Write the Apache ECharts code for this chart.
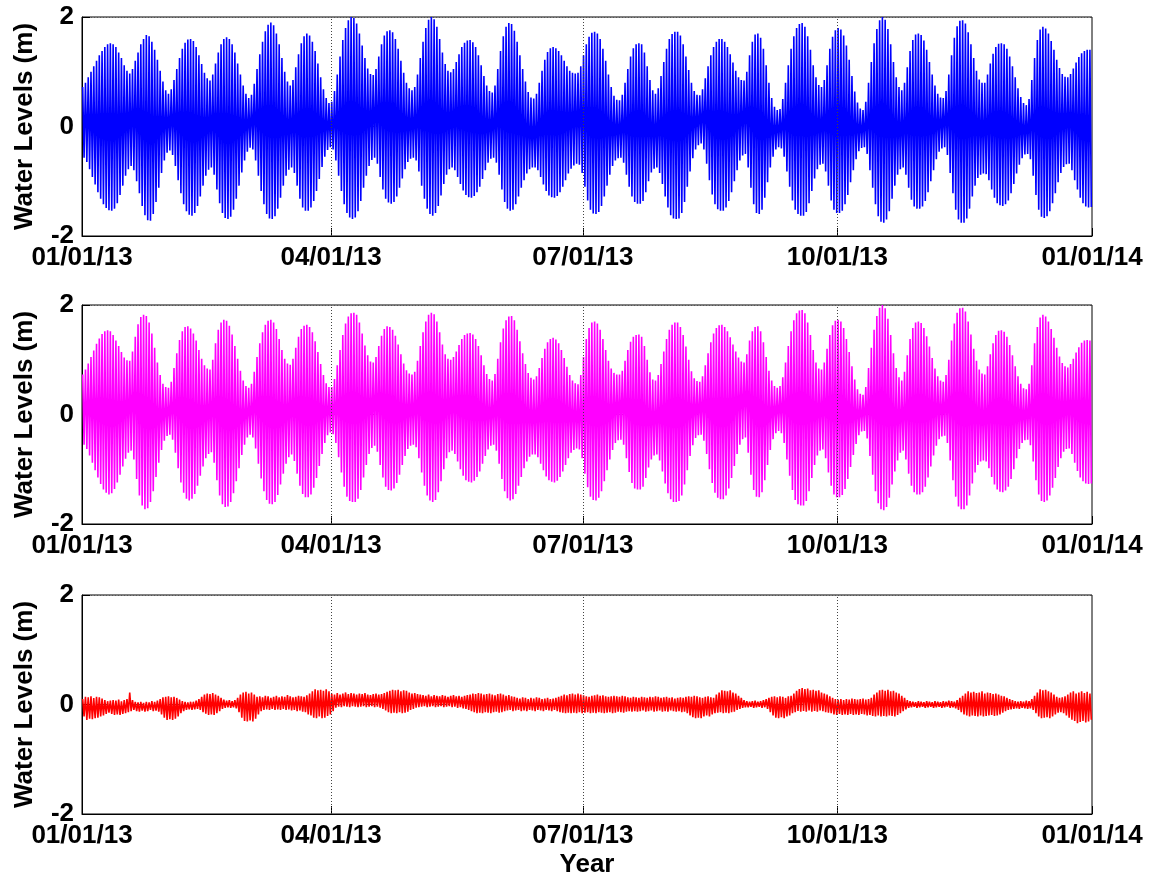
<!DOCTYPE html>
<html>
<head>
<meta charset="utf-8">
<script src="https://cdn.jsdelivr.net/npm/echarts@6/dist/echarts.min.js"></script>
<style>
html,body{margin:0;padding:0;background:#fff;}
#chart{width:1160px;height:882px;}
</style>
</head>
<body>
<div id="chart"></div>
<script>
// x positions: day of year 2013 (0 = 01/01/13, 365 = 01/01/14)
const tickDays = [0, 90, 181, 273, 365];
const tickLabels = ['01/01/13', '04/01/13', '07/01/13', '10/01/13', '01/01/14'];
const gridDays = [90, 181, 273];
const yTicks = [-2, 0, 2];

// Panel 1 (blue): daily high / low water levels (m)
const blueHigh = [
0.72,0.8,0.9,1.0,1.1,1.2,1.3,1.38,1.45,1.5,
1.52,1.5,1.45,1.35,1.25,1.12,1.02,0.97,1.05,1.2,
1.35,1.5,1.6,1.67,1.65,1.55,1.4,1.22,1.02,0.82,
0.66,0.6,0.68,0.85,1.05,1.25,1.42,1.53,1.59,1.6,
1.56,1.45,1.3,1.14,0.98,0.88,0.84,0.95,1.15,1.35,
1.5,1.6,1.63,1.6,1.5,1.35,1.15,0.95,0.75,0.6,
0.52,0.58,0.78,1.05,1.32,1.55,1.74,1.86,1.9,1.85,
1.7,1.5,1.25,1.0,0.82,0.75,0.85,1.08,1.32,1.52,
1.65,1.7,1.66,1.55,1.38,1.15,0.9,0.68,0.52,0.43,
0.45,0.65,0.95,1.28,1.58,1.8,1.94,2.0,1.98,1.88,
1.7,1.48,1.25,1.06,0.96,0.94,1.05,1.28,1.5,1.66,
1.74,1.76,1.72,1.6,1.42,1.2,0.98,0.8,0.7,0.66,
0.72,0.95,1.25,1.55,1.8,1.95,2.0,1.96,1.82,1.6,
1.35,1.14,1.02,0.99,1.05,1.18,1.32,1.45,1.53,1.57,
1.58,1.54,1.45,1.3,1.12,0.92,0.75,0.65,0.62,0.75,
1.05,1.38,1.65,1.82,1.89,1.87,1.75,1.55,1.3,1.05,
0.82,0.63,0.53,0.51,0.6,0.8,1.02,1.22,1.36,1.43,
1.45,1.43,1.38,1.3,1.2,1.1,1.02,0.98,0.97,0.98,
1.1,1.3,1.5,1.64,1.71,1.73,1.7,1.6,1.42,1.2,
0.95,0.72,0.56,0.49,0.48,0.58,0.8,1.05,1.28,1.43,
1.5,1.52,1.5,1.35,1.1,0.85,0.66,0.6,0.7,0.92,
1.18,1.42,1.6,1.69,1.73,1.73,1.66,1.5,1.28,1.03,
0.8,0.65,0.58,0.57,0.68,0.88,1.1,1.3,1.45,1.55,
1.6,1.6,1.55,1.45,1.32,1.17,1.02,0.9,0.85,0.84,
1.0,1.3,1.55,1.68,1.7,1.62,1.42,1.12,0.8,0.52,
0.36,0.3,0.32,0.5,0.8,1.12,1.42,1.65,1.8,1.87,
1.89,1.82,1.65,1.4,1.12,0.9,0.76,0.72,0.85,1.12,
1.42,1.64,1.76,1.8,1.77,1.66,1.48,1.22,0.92,0.64,
0.44,0.33,0.3,0.45,0.8,1.18,1.52,1.78,1.94,2.0,
1.95,1.78,1.5,1.18,0.9,0.72,0.66,0.8,1.08,1.38,
1.58,1.68,1.7,1.67,1.57,1.4,1.18,0.95,0.75,0.6,
0.53,0.52,0.65,0.95,1.3,1.62,1.83,1.93,1.94,1.88,
1.72,1.5,1.25,1.02,0.86,0.8,0.8,0.95,1.15,1.33,
1.45,1.51,1.52,1.5,1.42,1.28,1.1,0.9,0.7,0.54,
0.43,0.39,0.5,0.85,1.25,1.58,1.77,1.82,1.79,1.7,
1.56,1.4,1.22,1.07,0.96,0.91,0.9,0.96,1.06,1.17,
1.27,1.34,1.38,1.4,1.4
];
const blueLow = [
-0.57,-0.65,-0.78,-0.92,-1.06,-1.2,-1.32,-1.42,-1.49,-1.53,
-1.54,-1.5,-1.4,-1.25,-1.08,-0.9,-0.78,-0.72,-0.8,-1.0,
-1.22,-1.45,-1.62,-1.71,-1.72,-1.6,-1.38,-1.12,-0.85,-0.62,
-0.48,-0.44,-0.52,-0.72,-0.98,-1.22,-1.42,-1.55,-1.61,-1.63,
-1.58,-1.45,-1.28,-1.08,-0.9,-0.79,-0.75,-0.88,-1.15,-1.4,
-1.58,-1.67,-1.69,-1.65,-1.52,-1.32,-1.08,-0.84,-0.62,-0.46,
-0.39,-0.42,-0.62,-0.9,-1.18,-1.42,-1.6,-1.68,-1.69,-1.64,
-1.5,-1.3,-1.08,-0.9,-0.79,-0.75,-0.85,-1.08,-1.32,-1.48,
-1.54,-1.54,-1.48,-1.36,-1.18,-0.96,-0.74,-0.55,-0.43,-0.38,
-0.42,-0.62,-0.9,-1.18,-1.42,-1.58,-1.66,-1.69,-1.66,-1.55,
-1.36,-1.12,-0.9,-0.72,-0.61,-0.57,-0.68,-0.92,-1.15,-1.32,
-1.39,-1.41,-1.38,-1.28,-1.12,-0.95,-0.78,-0.65,-0.59,-0.57,
-0.62,-0.82,-1.08,-1.32,-1.5,-1.6,-1.63,-1.58,-1.45,-1.26,
-1.05,-0.88,-0.78,-0.75,-0.8,-0.92,-1.05,-1.17,-1.25,-1.29,
-1.3,-1.27,-1.2,-1.1,-0.96,-0.8,-0.66,-0.59,-0.57,-0.66,
-0.88,-1.15,-1.38,-1.5,-1.54,-1.52,-1.42,-1.28,-1.12,-0.98,
-0.86,-0.78,-0.75,-0.75,-0.8,-0.92,-1.06,-1.18,-1.26,-1.29,
-1.3,-1.27,-1.2,-1.1,-0.98,-0.86,-0.77,-0.71,-0.68,-0.7,
-0.85,-1.1,-1.35,-1.52,-1.59,-1.6,-1.56,-1.45,-1.28,-1.08,
-0.88,-0.72,-0.62,-0.58,-0.57,-0.66,-0.88,-1.1,-1.28,-1.38,
-1.41,-1.41,-1.36,-1.2,-1.0,-0.84,-0.77,-0.75,-0.85,-1.05,
-1.28,-1.48,-1.62,-1.68,-1.69,-1.68,-1.58,-1.38,-1.1,-0.82,
-0.58,-0.42,-0.34,-0.31,-0.42,-0.68,-0.98,-1.24,-1.42,-1.51,
-1.54,-1.54,-1.48,-1.36,-1.2,-1.0,-0.8,-0.62,-0.53,-0.5,
-0.75,-1.12,-1.42,-1.58,-1.6,-1.52,-1.3,-1.02,-0.75,-0.55,
-0.42,-0.38,-0.4,-0.55,-0.82,-1.1,-1.35,-1.52,-1.6,-1.63,
-1.63,-1.56,-1.4,-1.18,-0.95,-0.78,-0.7,-0.68,-0.82,-1.08,
-1.35,-1.52,-1.58,-1.58,-1.54,-1.42,-1.25,-1.02,-0.8,-0.6,
-0.45,-0.39,-0.38,-0.5,-0.8,-1.12,-1.42,-1.64,-1.74,-1.76,
-1.7,-1.55,-1.32,-1.08,-0.88,-0.78,-0.75,-0.88,-1.12,-1.34,
-1.46,-1.5,-1.5,-1.46,-1.36,-1.2,-1.0,-0.8,-0.6,-0.46,
-0.4,-0.38,-0.52,-0.85,-1.22,-1.52,-1.7,-1.76,-1.76,-1.68,
-1.5,-1.28,-1.08,-0.94,-0.88,-0.86,-0.87,-0.98,-1.15,-1.3,
-1.4,-1.44,-1.45,-1.42,-1.35,-1.22,-1.05,-0.86,-0.7,-0.58,
-0.51,-0.5,-0.6,-0.9,-1.25,-1.52,-1.65,-1.67,-1.64,-1.55,
-1.4,-1.22,-1.02,-0.85,-0.74,-0.69,-0.68,-0.8,-0.98,-1.15,
-1.3,-1.4,-1.46,-1.48,-1.47
];

// Panel 2 (magenta)
const magentaHigh = [
0.73,0.82,0.93,1.05,1.17,1.29,1.39,1.47,1.52,1.54,
1.52,1.45,1.35,1.25,1.14,1.04,0.99,0.98,1.15,1.42,
1.65,1.78,1.82,1.8,1.68,1.48,1.22,0.95,0.72,0.56,
0.5,0.49,0.6,0.85,1.12,1.36,1.52,1.6,1.61,1.57,
1.48,1.35,1.18,1.02,0.9,0.84,0.82,1.0,1.3,1.55,
1.68,1.73,1.71,1.62,1.46,1.25,1.02,0.8,0.62,0.52,
0.49,0.56,0.78,1.05,1.3,1.5,1.64,1.71,1.73,1.68,
1.56,1.38,1.18,1.02,0.93,0.91,1.02,1.22,1.42,1.56,
1.62,1.64,1.6,1.5,1.34,1.14,0.92,0.72,0.57,0.5,
0.5,0.65,0.9,1.18,1.45,1.66,1.79,1.85,1.86,1.82,
1.68,1.48,1.26,1.08,0.97,0.95,1.05,1.25,1.44,1.56,
1.61,1.6,1.55,1.44,1.28,1.1,0.93,0.81,0.75,0.73,
0.78,0.98,1.25,1.5,1.7,1.82,1.86,1.83,1.7,1.5,
1.28,1.1,1.02,1.0,1.05,1.15,1.27,1.38,1.45,1.48,
1.49,1.46,1.38,1.25,1.08,0.9,0.74,0.65,0.62,0.74,
1.02,1.32,1.57,1.72,1.79,1.8,1.72,1.55,1.34,1.12,
0.92,0.76,0.67,0.64,0.7,0.85,1.03,1.2,1.32,1.38,
1.4,1.37,1.3,1.18,1.03,0.87,0.72,0.62,0.57,0.55,
0.72,1.05,1.38,1.58,1.68,1.7,1.66,1.55,1.38,1.18,
0.98,0.84,0.76,0.73,0.73,0.8,0.98,1.18,1.33,1.42,
1.45,1.46,1.42,1.25,1.0,0.77,0.64,0.62,0.72,0.92,
1.15,1.38,1.55,1.64,1.68,1.68,1.6,1.45,1.24,1.0,
0.79,0.66,0.61,0.6,0.7,0.9,1.12,1.32,1.48,1.58,
1.63,1.64,1.6,1.52,1.41,1.28,1.15,1.04,0.97,0.95,
1.1,1.35,1.52,1.6,1.61,1.52,1.32,1.05,0.8,0.62,
0.52,0.49,0.52,0.68,0.95,1.25,1.52,1.72,1.85,1.9,
1.91,1.85,1.68,1.45,1.18,0.95,0.84,0.82,0.95,1.2,
1.45,1.63,1.71,1.73,1.7,1.58,1.38,1.14,0.88,0.64,
0.46,0.38,0.36,0.5,0.85,1.22,1.55,1.8,1.95,2.0,
1.94,1.75,1.45,1.12,0.85,0.68,0.62,0.78,1.08,1.38,
1.58,1.68,1.7,1.67,1.58,1.43,1.24,1.03,0.84,0.7,
0.62,0.6,0.72,1.0,1.35,1.66,1.86,1.94,1.95,1.88,
1.7,1.46,1.2,0.98,0.82,0.75,0.73,0.88,1.1,1.3,
1.45,1.53,1.54,1.51,1.42,1.27,1.08,0.88,0.7,0.56,
0.48,0.46,0.56,0.9,1.3,1.6,1.77,1.82,1.79,1.7,
1.56,1.4,1.22,1.06,0.94,0.88,0.86,0.92,1.02,1.13,
1.23,1.31,1.35,1.36,1.35
];
const magentaLow = [
-0.55,-0.63,-0.75,-0.88,-1.02,-1.15,-1.27,-1.37,-1.43,-1.46,
-1.44,-1.36,-1.24,-1.1,-0.95,-0.81,-0.7,-0.66,-0.82,-1.18,
-1.48,-1.66,-1.73,-1.71,-1.6,-1.4,-1.14,-0.88,-0.65,-0.48,
-0.39,-0.37,-0.46,-0.7,-0.98,-1.24,-1.43,-1.54,-1.57,-1.54,
-1.45,-1.3,-1.12,-0.95,-0.8,-0.72,-0.69,-0.88,-1.2,-1.48,
-1.64,-1.69,-1.68,-1.6,-1.44,-1.22,-0.98,-0.74,-0.55,-0.42,
-0.37,-0.42,-0.62,-0.9,-1.17,-1.4,-1.56,-1.63,-1.64,-1.6,
-1.47,-1.28,-1.08,-0.9,-0.78,-0.73,-0.85,-1.08,-1.3,-1.45,
-1.51,-1.51,-1.46,-1.34,-1.16,-0.94,-0.72,-0.52,-0.38,-0.33,
-0.36,-0.52,-0.78,-1.06,-1.32,-1.5,-1.58,-1.6,-1.6,-1.54,
-1.38,-1.15,-0.92,-0.72,-0.61,-0.57,-0.68,-0.92,-1.15,-1.32,
-1.38,-1.39,-1.35,-1.25,-1.1,-0.92,-0.76,-0.63,-0.57,-0.55,
-0.6,-0.8,-1.06,-1.3,-1.48,-1.57,-1.6,-1.56,-1.42,-1.22,
-1.0,-0.8,-0.69,-0.66,-0.72,-0.86,-1.0,-1.12,-1.2,-1.23,
-1.24,-1.21,-1.14,-1.04,-0.9,-0.76,-0.64,-0.57,-0.55,-0.66,
-0.9,-1.18,-1.4,-1.53,-1.57,-1.55,-1.45,-1.3,-1.14,-0.98,
-0.86,-0.77,-0.73,-0.73,-0.78,-0.9,-1.02,-1.13,-1.2,-1.23,
-1.24,-1.21,-1.14,-1.04,-0.92,-0.8,-0.7,-0.65,-0.62,-0.64,
-0.8,-1.08,-1.33,-1.5,-1.56,-1.57,-1.52,-1.4,-1.22,-1.02,
-0.82,-0.65,-0.52,-0.47,-0.46,-0.55,-0.8,-1.05,-1.25,-1.35,
-1.37,-1.37,-1.32,-1.16,-0.97,-0.82,-0.75,-0.73,-0.84,-1.04,
-1.26,-1.44,-1.55,-1.6,-1.6,-1.58,-1.48,-1.28,-1.02,-0.76,
-0.56,-0.43,-0.38,-0.37,-0.48,-0.72,-1.0,-1.25,-1.43,-1.52,
-1.55,-1.55,-1.48,-1.35,-1.16,-0.94,-0.72,-0.55,-0.45,-0.42,
-0.7,-1.1,-1.38,-1.5,-1.51,-1.42,-1.2,-0.92,-0.65,-0.45,
-0.34,-0.3,-0.34,-0.52,-0.82,-1.12,-1.38,-1.56,-1.64,-1.66,
-1.66,-1.58,-1.4,-1.16,-0.92,-0.75,-0.66,-0.64,-0.8,-1.06,
-1.3,-1.46,-1.51,-1.51,-1.47,-1.36,-1.18,-0.96,-0.74,-0.54,
-0.38,-0.31,-0.3,-0.44,-0.76,-1.1,-1.4,-1.62,-1.73,-1.75,
-1.69,-1.52,-1.28,-1.04,-0.84,-0.7,-0.66,-0.82,-1.08,-1.3,
-1.42,-1.46,-1.46,-1.42,-1.32,-1.15,-0.95,-0.75,-0.57,-0.45,
-0.4,-0.39,-0.52,-0.84,-1.2,-1.5,-1.68,-1.73,-1.73,-1.66,
-1.48,-1.26,-1.06,-0.92,-0.86,-0.84,-0.86,-0.98,-1.14,-1.28,
-1.37,-1.41,-1.42,-1.39,-1.32,-1.18,-1.0,-0.8,-0.63,-0.52,
-0.47,-0.46,-0.56,-0.86,-1.2,-1.46,-1.58,-1.6,-1.57,-1.48,
-1.34,-1.16,-0.96,-0.8,-0.68,-0.63,-0.62,-0.72,-0.88,-1.03,
-1.15,-1.22,-1.26,-1.27,-1.26
];

// Panel 3 (red residual)
const residualHigh = [
0.1,0.14,0.13,0.15,0.12,0.14,0.13,0.11,0.08,0.06,
0.07,0.08,0.07,0.09,0.06,0.08,0.1,0.22,0.08,0.05,
0.04,0.05,0.03,0.05,0.04,0.06,0.05,0.07,0.1,0.13,
0.14,0.15,0.13,0.14,0.12,0.09,0.06,0.05,0.04,0.05,
0.05,0.07,0.1,0.14,0.18,0.2,0.19,0.21,0.18,0.16,
0.12,0.09,0.07,0.08,0.06,0.08,0.12,0.18,0.22,0.23,
0.2,0.22,0.18,0.14,0.15,0.13,0.16,0.15,0.12,0.14,
0.16,0.13,0.15,0.14,0.17,0.15,0.13,0.14,0.16,0.15,
0.14,0.17,0.2,0.24,0.28,0.26,0.27,0.25,0.28,0.24,
0.2,0.18,0.21,0.18,0.2,0.22,0.19,0.21,0.2,0.18,
0.2,0.19,0.21,0.18,0.17,0.19,0.2,0.18,0.19,0.21,
0.23,0.25,0.27,0.26,0.27,0.24,0.26,0.25,0.22,0.2,
0.21,0.19,0.18,0.17,0.16,0.18,0.15,0.17,0.16,0.15,
0.17,0.16,0.14,0.16,0.17,0.15,0.16,0.14,0.16,0.17,
0.18,0.2,0.19,0.21,0.2,0.18,0.19,0.2,0.18,0.17,
0.19,0.2,0.18,0.16,0.17,0.15,0.14,0.12,0.11,0.13,
0.12,0.1,0.12,0.11,0.13,0.12,0.1,0.11,0.12,0.1,
0.11,0.12,0.14,0.16,0.18,0.17,0.19,0.2,0.18,0.2,
0.18,0.17,0.15,0.14,0.16,0.17,0.18,0.16,0.17,0.15,
0.14,0.15,0.16,0.15,0.14,0.16,0.15,0.13,0.12,0.14,
0.13,0.12,0.14,0.13,0.12,0.14,0.13,0.15,0.14,0.12,
0.13,0.14,0.12,0.13,0.11,0.12,0.13,0.12,0.14,0.15,
0.14,0.16,0.15,0.13,0.12,0.14,0.15,0.13,0.12,0.18,
0.22,0.26,0.25,0.24,0.26,0.22,0.2,0.16,0.12,0.08,
0.06,0.05,0.06,0.07,0.05,0.06,0.08,0.1,0.12,0.14,
0.15,0.13,0.15,0.14,0.12,0.15,0.16,0.2,0.25,0.28,
0.3,0.28,0.29,0.26,0.27,0.25,0.26,0.22,0.2,0.18,
0.15,0.12,0.1,0.09,0.1,0.08,0.1,0.09,0.11,0.1,
0.09,0.1,0.11,0.09,0.1,0.12,0.18,0.22,0.26,0.27,
0.25,0.27,0.24,0.25,0.22,0.2,0.16,0.12,0.08,0.06,
0.05,0.04,0.06,0.05,0.04,0.06,0.05,0.04,0.06,0.05,
0.04,0.06,0.05,0.07,0.06,0.05,0.08,0.12,0.16,0.2,
0.24,0.22,0.23,0.21,0.22,0.24,0.2,0.22,0.21,0.19,
0.2,0.18,0.16,0.15,0.12,0.1,0.08,0.06,0.05,0.06,
0.05,0.07,0.06,0.1,0.16,0.22,0.28,0.26,0.27,0.24,
0.22,0.18,0.14,0.12,0.13,0.15,0.18,0.22,0.24,0.2,
0.22,0.24,0.21,0.23,0.2
];
const residualLow = [
-0.22,-0.28,-0.26,-0.27,-0.25,-0.24,-0.22,-0.2,-0.17,-0.15,
-0.17,-0.19,-0.18,-0.19,-0.17,-0.16,-0.14,-0.12,-0.1,-0.12,
-0.13,-0.11,-0.13,-0.12,-0.1,-0.12,-0.11,-0.13,-0.18,-0.24,
-0.28,-0.27,-0.28,-0.26,-0.22,-0.16,-0.12,-0.1,-0.09,-0.1,
-0.09,-0.08,-0.1,-0.14,-0.17,-0.19,-0.18,-0.19,-0.16,-0.12,
-0.08,-0.06,-0.05,-0.06,-0.05,-0.07,-0.14,-0.24,-0.3,-0.31,
-0.29,-0.31,-0.26,-0.18,-0.12,-0.1,-0.09,-0.1,-0.08,-0.1,
-0.09,-0.1,-0.08,-0.1,-0.09,-0.11,-0.1,-0.12,-0.11,-0.13,
-0.14,-0.18,-0.2,-0.24,-0.25,-0.22,-0.25,-0.24,-0.21,-0.18,
-0.12,-0.06,-0.04,-0.05,-0.03,-0.04,-0.05,-0.03,-0.04,-0.05,
-0.04,-0.03,-0.05,-0.04,-0.03,-0.05,-0.04,-0.06,-0.08,-0.11,
-0.14,-0.16,-0.15,-0.16,-0.14,-0.16,-0.15,-0.13,-0.1,-0.08,
-0.06,-0.05,-0.04,-0.03,-0.05,-0.04,-0.03,-0.05,-0.04,-0.03,
-0.05,-0.04,-0.03,-0.05,-0.04,-0.06,-0.05,-0.07,-0.08,-0.1,
-0.12,-0.14,-0.16,-0.15,-0.16,-0.14,-0.15,-0.16,-0.14,-0.13,
-0.15,-0.14,-0.12,-0.11,-0.1,-0.12,-0.11,-0.1,-0.12,-0.11,
-0.12,-0.1,-0.11,-0.12,-0.1,-0.11,-0.12,-0.1,-0.11,-0.12,
-0.1,-0.12,-0.14,-0.15,-0.16,-0.15,-0.16,-0.15,-0.16,-0.14,
-0.16,-0.15,-0.14,-0.16,-0.15,-0.16,-0.14,-0.15,-0.16,-0.15,
-0.14,-0.16,-0.15,-0.13,-0.14,-0.15,-0.13,-0.12,-0.13,-0.12,
-0.13,-0.12,-0.11,-0.13,-0.12,-0.11,-0.13,-0.12,-0.11,-0.13,
-0.12,-0.13,-0.11,-0.12,-0.13,-0.12,-0.14,-0.13,-0.16,-0.2,
-0.23,-0.25,-0.24,-0.25,-0.22,-0.2,-0.22,-0.18,-0.16,-0.15,
-0.14,-0.16,-0.15,-0.16,-0.14,-0.13,-0.1,-0.08,-0.06,-0.05,
-0.05,-0.04,-0.06,-0.05,-0.04,-0.06,-0.05,-0.08,-0.14,-0.2,
-0.24,-0.25,-0.23,-0.25,-0.22,-0.2,-0.16,-0.14,-0.12,-0.13,
-0.12,-0.13,-0.11,-0.13,-0.12,-0.13,-0.11,-0.12,-0.14,-0.15,
-0.16,-0.18,-0.19,-0.17,-0.19,-0.18,-0.19,-0.17,-0.19,-0.18,
-0.19,-0.17,-0.18,-0.2,-0.19,-0.21,-0.22,-0.2,-0.22,-0.21,
-0.22,-0.2,-0.21,-0.22,-0.19,-0.16,-0.12,-0.09,-0.06,-0.05,
-0.04,-0.06,-0.05,-0.04,-0.06,-0.05,-0.04,-0.06,-0.05,-0.04,
-0.06,-0.05,-0.04,-0.06,-0.05,-0.07,-0.1,-0.14,-0.18,-0.2,
-0.22,-0.2,-0.21,-0.22,-0.2,-0.22,-0.21,-0.2,-0.19,-0.21,
-0.2,-0.18,-0.15,-0.12,-0.1,-0.09,-0.08,-0.07,-0.08,-0.06,
-0.07,-0.08,-0.07,-0.1,-0.16,-0.22,-0.25,-0.24,-0.23,-0.25,
-0.22,-0.18,-0.15,-0.14,-0.16,-0.2,-0.24,-0.28,-0.3,-0.34,
-0.32,-0.3,-0.33,-0.31,-0.28
];

// Each day: high water then low water
function tideSeries(high, low) {
  const pts = [];
  for (let i = 0; i < high.length; i++) {
    pts.push([i + 0.25, high[i]]);
    if (i < low.length) pts.push([i + 0.75, low[i]]);
  }
  return pts;
}

const FONT = "'Liberation Sans', Arial, Helvetica, sans-serif";
const gridTops = [17, 305, 595];
const panels = [
  { high: blueHigh, low: blueLow, color: '#0000ff' },
  { high: magentaHigh, low: magentaLow, color: '#ff00ff' },
  { high: residualHigh, low: residualLow, color: '#ff0000' }
];

const grids = [], xAxes = [], yAxes = [], series = [];
panels.forEach((p, k) => {
  grids.push({ left: 82, width: 1010, top: gridTops[k], height: 219,
    show: true, borderColor: '#000', borderWidth: 1, backgroundColor: '#fff' });
  xAxes.push({
    type: 'value', gridIndex: k, min: 0, max: 365,
    name: k === 2 ? 'Year' : '', nameLocation: 'middle', nameGap: 38,
    nameTextStyle: { fontFamily: FONT, fontWeight: 'bold', fontSize: 26, color: '#000' },
    axisLine: { show: true, onZero: false, lineStyle: { color: '#000', width: 1 } },
    axisTick: { show: true, inside: true, length: 8, customValues: tickDays, lineStyle: { color: '#000' } },
    axisLabel: { show: true, customValues: tickDays, margin: 9, showMinLabel: true, showMaxLabel: true,
      fontFamily: FONT, fontWeight: 'bold', fontSize: 26, color: '#000',
      formatter: v => { const j = tickDays.indexOf(v); return j >= 0 ? tickLabels[j] : ''; } },
    splitLine: { show: false }
  });
  yAxes.push({
    type: 'value', gridIndex: k, min: yTicks[0], max: yTicks[yTicks.length - 1], interval: 2,
    name: 'Water Levels (m)', nameLocation: 'middle', nameGap: 44,
    nameTextStyle: { fontFamily: FONT, fontWeight: 'bold', fontSize: 26, color: '#000' },
    axisLine: { show: true, onZero: false, lineStyle: { color: '#000', width: 1 } },
    axisTick: { show: true, inside: true, length: 8, lineStyle: { color: '#000' } },
    axisLabel: { margin: 8, fontFamily: FONT, fontWeight: 'bold', fontSize: 26, color: '#000' },
    splitLine: { show: true, lineStyle: { color: '#555', type: [1, 2], width: 1 } }
  });
  series.push({
    type: 'line', xAxisIndex: k, yAxisIndex: k, data: [], z: 1, silent: true,
    markLine: { silent: true, symbol: ['none', 'none'], label: { show: false },
      lineStyle: { color: '#444', type: [1, 2], width: 1 },
      data: gridDays.map(d => ({ xAxis: d })) }
  });
  series.push({
    type: 'line', xAxisIndex: k, yAxisIndex: k, z: 3, silent: true,
    data: tideSeries(p.high, p.low), showSymbol: false, symbol: 'none',
    lineStyle: { color: p.color, width: 1.6 }, itemStyle: { color: p.color }
  });
});

const chart = echarts.init(document.getElementById('chart'), null, { renderer: 'canvas' });
chart.setOption({
  animation: false,
  backgroundColor: '#fff',
  grid: grids, xAxis: xAxes, yAxis: yAxes, series: series
});
</script>
</body>
</html>
